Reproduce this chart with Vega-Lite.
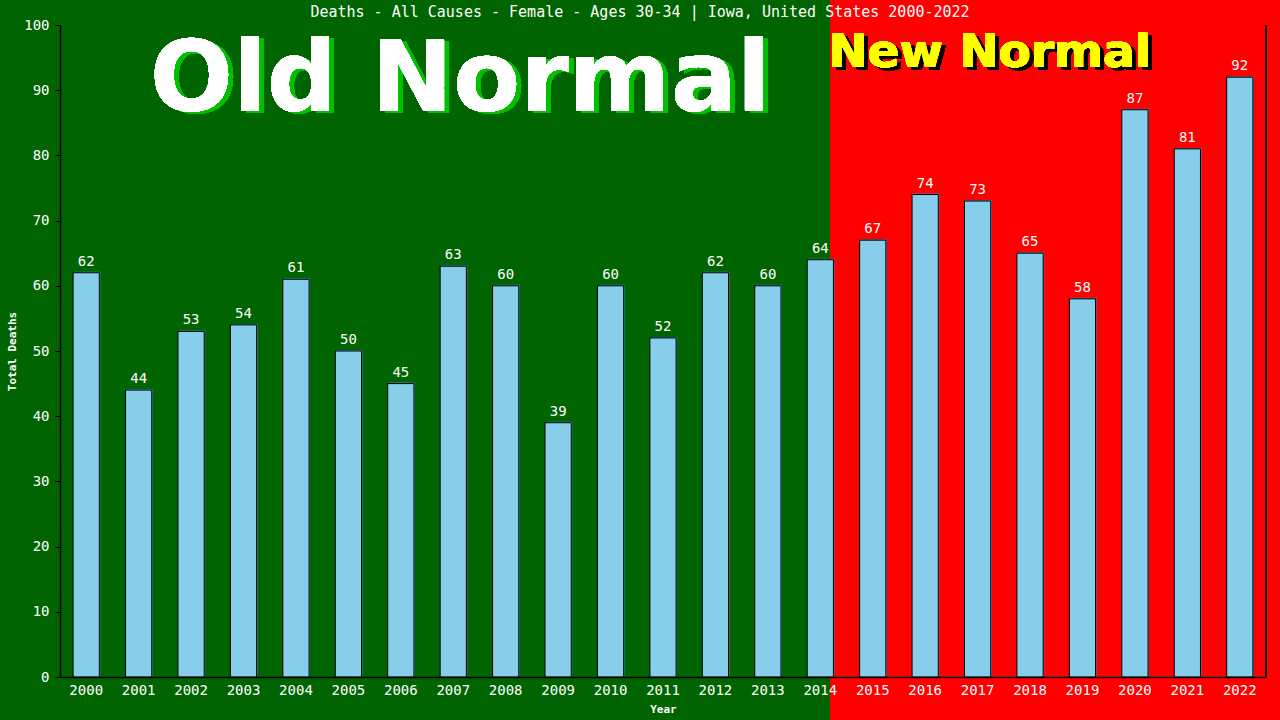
{
  "$schema": "https://vega.github.io/schema/vega-lite/v6.json",
  "width": 1206,
  "height": 652,
  "autosize": {"type": "none"},
  "padding": {"left": 60, "top": 25, "right": 14, "bottom": 43},
  "background": "#006400",
  "config": {
    "view": {"stroke": null},
    "font": "DejaVu Sans Mono"
  },
  "title": {
    "text": "Deaths - All Causes - Female - Ages 30-34 | Iowa, United States 2000-2022",
    "color": "white",
    "font": "DejaVu Sans Mono",
    "fontSize": 15,
    "fontWeight": "normal",
    "anchor": "middle",
    "baseline": "alphabetic",
    "dx": -23,
    "offset": -32.6
  },
  "data": {
    "values": [
      {"year": 2000, "deaths": 62},
      {"year": 2001, "deaths": 44},
      {"year": 2002, "deaths": 53},
      {"year": 2003, "deaths": 54},
      {"year": 2004, "deaths": 61},
      {"year": 2005, "deaths": 50},
      {"year": 2006, "deaths": 45},
      {"year": 2007, "deaths": 63},
      {"year": 2008, "deaths": 60},
      {"year": 2009, "deaths": 39},
      {"year": 2010, "deaths": 60},
      {"year": 2011, "deaths": 52},
      {"year": 2012, "deaths": 62},
      {"year": 2013, "deaths": 60},
      {"year": 2014, "deaths": 64},
      {"year": 2015, "deaths": 67},
      {"year": 2016, "deaths": 74},
      {"year": 2017, "deaths": 73},
      {"year": 2018, "deaths": 65},
      {"year": 2019, "deaths": 58},
      {"year": 2020, "deaths": 87},
      {"year": 2021, "deaths": 81},
      {"year": 2022, "deaths": 92}
    ]
  },
  "layer": [
    {
      "mark": {"type": "rect", "color": "#ff0000", "clip": false},
      "encoding": {
        "x": {"datum": 2014.185, "type": "quantitative", "scale": {"domain": [1999.5, 2022.5]}, "axis": null},
        "x2": {"datum": 2023},
        "y": {"datum": -7, "type": "quantitative", "scale": {"domain": [0, 100]}, "axis": null},
        "y2": {"datum": 104}
      }
    },
    {
      "mark": {"type": "text", "font": "DejaVu Sans", "fontWeight": "bold", "fontSize": 98, "color": "#00c000", "align": "center", "baseline": "alphabetic", "dx": 5, "dy": 2},
      "encoding": {
        "x": {"datum": 2007.13, "type": "quantitative", "scale": {"domain": [1999.5, 2022.5]}, "axis": null},
        "y": {"datum": 86.8, "type": "quantitative", "scale": {"domain": [0, 100]}, "axis": null},
        "text": {"value": "Old Normal"}
      }
    },
    {
      "mark": {"type": "text", "font": "DejaVu Sans", "fontWeight": "bold", "fontSize": 98, "color": "white", "align": "center", "baseline": "alphabetic"},
      "encoding": {
        "x": {"datum": 2007.13, "type": "quantitative", "scale": {"domain": [1999.5, 2022.5]}, "axis": null},
        "y": {"datum": 86.8, "type": "quantitative", "scale": {"domain": [0, 100]}, "axis": null},
        "text": {"value": "Old Normal"}
      }
    },
    {
      "mark": {"type": "text", "font": "DejaVu Sans", "fontWeight": "bold", "fontSize": 47, "color": "black", "align": "left", "baseline": "alphabetic", "dx": 4, "dy": 3},
      "encoding": {
        "x": {"datum": 2014.15, "type": "quantitative", "scale": {"domain": [1999.5, 2022.5]}, "axis": null},
        "y": {"datum": 93.6, "type": "quantitative", "scale": {"domain": [0, 100]}, "axis": null},
        "text": {"value": "New Normal"}
      }
    },
    {
      "mark": {"type": "text", "font": "DejaVu Sans", "fontWeight": "bold", "fontSize": 47, "color": "#ffff00", "align": "left", "baseline": "alphabetic"},
      "encoding": {
        "x": {"datum": 2014.15, "type": "quantitative", "scale": {"domain": [1999.5, 2022.5]}, "axis": null},
        "y": {"datum": 93.6, "type": "quantitative", "scale": {"domain": [0, 100]}, "axis": null},
        "text": {"value": "New Normal"}
      }
    },
    {
      "mark": {"type": "rule", "color": "black", "strokeWidth": 1},
      "encoding": {
        "x": {"datum": 2022.5, "type": "quantitative", "scale": {"domain": [1999.5, 2022.5]}, "axis": null},
        "y": {"datum": 0, "type": "quantitative", "scale": {"domain": [0, 100]}, "axis": null},
        "y2": {"datum": 100}
      }
    },
    {
      "mark": {"type": "bar", "color": "#4682b4", "xOffset": 1, "yOffset": -1},
      "encoding": {
        "x": {"field": "year", "type": "ordinal", "scale": {"paddingInner": 0.5, "paddingOuter": 0.25}, "axis": null},
        "y": {"field": "deaths", "type": "quantitative", "scale": {"domain": [0, 100]}, "axis": null}
      }
    },
    {
      "mark": {"type": "bar", "fill": "#87ceeb", "stroke": "black", "strokeWidth": 1},
      "encoding": {
        "x": {
          "field": "year",
          "type": "ordinal",
          "scale": {"paddingInner": 0.5, "paddingOuter": 0.25},
          "axis": {
            "title": "Year",
            "zindex": 1,
            "titleColor": "white",
            "titleFont": "DejaVu Sans Mono",
            "titleFontSize": 11,
            "titleFontWeight": "bold",
            "titlePadding": 6,
            "labelAngle": 0,
            "labelColor": "white",
            "labelFont": "DejaVu Sans Mono",
            "labelFontSize": 14,
            "labelPadding": 6,
            "ticks": false,
            "domainColor": "black",
            "domainWidth": 1.5,
            "grid": false
          }
        },
        "y": {
          "field": "deaths",
          "type": "quantitative",
          "scale": {"domain": [0, 100]},
          "axis": {
            "title": "Total Deaths",
            "zindex": 1,
            "titleColor": "white",
            "titleFont": "DejaVu Sans Mono",
            "titleFontSize": 11,
            "titleFontWeight": "bold",
            "titlePadding": 6,
            "values": [0, 10, 20, 30, 40, 50, 60, 70, 80, 90, 100],
            "labelColor": "white",
            "labelFont": "DejaVu Sans Mono",
            "labelFontSize": 14,
            "labelPadding": 6,
            "tickColor": "black",
            "tickSize": 5,
            "domainColor": "black",
            "domainWidth": 1.5,
            "grid": false
          }
        }
      }
    },
    {
      "mark": {"type": "text", "color": "white", "font": "DejaVu Sans Mono", "fontSize": 14, "baseline": "alphabetic", "dy": -7},
      "encoding": {
        "x": {"field": "year", "type": "ordinal", "scale": {"paddingInner": 0.5, "paddingOuter": 0.25}, "axis": null},
        "y": {"field": "deaths", "type": "quantitative", "scale": {"domain": [0, 100]}, "axis": null},
        "text": {"field": "deaths", "type": "quantitative"}
      }
    }
  ],
  "resolve": {"scale": {"x": "independent", "y": "independent"}}
}
